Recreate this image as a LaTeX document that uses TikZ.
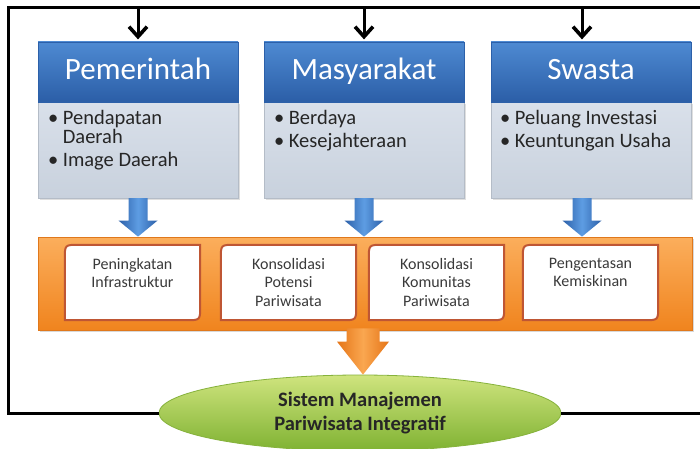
\documentclass[tikz,border=0pt]{standalone}
\usepackage{fontspec}
\setmainfont{Carlito}
\usetikzlibrary{calc,arrows.meta,shapes.geometric,shadows}
\definecolor{hdrtop}{HTML}{4E8AD2}
\definecolor{hdrbot}{HTML}{2B5EA7}
\definecolor{bodytop}{HTML}{D9E0EA}
\definecolor{bodybot}{HTML}{C8D1DD}
\definecolor{bandtop}{HTML}{FBAE5C}
\definecolor{bandbot}{HTML}{F0841E}
\definecolor{bandline}{HTML}{E0781C}
\definecolor{boxline}{HTML}{BF5634}
\definecolor{blueedge}{HTML}{2C60A9}
\definecolor{bluemid}{HTML}{5E9DE3}
\definecolor{orgedge}{HTML}{E57518}
\definecolor{orgmid}{HTML}{FAA750}
\definecolor{elltop}{HTML}{CFE47E}
\definecolor{ellbot}{HTML}{7FB232}
\definecolor{elldraw}{HTML}{86B23C}
\definecolor{txtdark}{HTML}{262626}
\definecolor{txtband}{HTML}{3A3A3A}
\begin{document}
\begin{tikzpicture}[x=1pt,y=1pt,
  hdr/.style={rectangle, minimum width=200pt, minimum height=60pt, inner sep=0pt,
    top color=hdrtop, bottom color=hdrbot, draw=blueedge, line width=.6pt,
    text=white, font=\fontsize{31}{31}\selectfont, text height=21pt, text depth=5pt},
  bodybox/.style={rectangle, minimum width=200pt, minimum height=96pt, inner sep=0pt,
    top color=bodytop, bottom color=bodybot, draw=bodybot!90!black, line width=.4pt,
    drop shadow={opacity=.25, shadow xshift=2pt, shadow yshift=-2pt}},
  bul/.style={anchor=north west, inner sep=0pt, align=left, text=txtdark,
    font=\fontsize{20.5}{19.5}\selectfont},
  band/.style={rectangle, minimum width=654pt, minimum height=93pt, inner sep=0pt,
    top color=bandtop, bottom color=bandbot, draw=bandline, line width=.8pt,
    drop shadow={opacity=.3, shadow xshift=2pt, shadow yshift=-2pt}},
  bandbox/.style={rectangle, minimum width=135pt, minimum height=75pt, inner sep=0pt},
  boxborder/.style={draw=boxline, line width=2pt, fill=white},
  bt/.style={anchor=north, inner sep=0pt, align=center, text=txtband,
    font=\fontsize{16}{18.5}\selectfont},
  ell/.style={ellipse, minimum width=402pt, minimum height=76pt, inner sep=0pt,
    top color=elltop, bottom color=ellbot, draw=elldraw, line width=.8pt,
    align=center, text=txtdark, font=\bfseries\fontsize{20.5}{23.5}\selectfont},
  frame/.style={line width=3pt, black},
  shaftline/.style={line width=3pt, black},
  barb/.style={line width=3.6pt, black, miter limit=10},
  bluearrow/.style={left color=blueedge, right color=blueedge, middle color=bluemid,
    to path={let \p1=(\tikztostart), \p2=(\tikztotarget) in
      (\x1-9.5pt,\y1) -- (\x1+9.5pt,\y1) -- (\x1+9.5pt,\y2+16pt) -- (\x1+19.5pt,\y2+16pt)
      -- (\x1,\y2) -- (\x1-19.5pt,\y2+16pt) -- (\x1-9.5pt,\y2+16pt) -- cycle}},
  orangearrow/.style={left color=orgedge, right color=orgedge, middle color=orgmid,
    to path={let \p1=(\tikztostart), \p2=(\tikztotarget) in
      (\x1-16.5pt,\y1) -- (\x1+16.5pt,\y1) -- (\x1+16.5pt,\y2+33pt) -- (\x1+26pt,\y2+33pt)
      -- (\x1,\y2) -- (\x1-26pt,\y2+33pt) -- (\x1-16.5pt,\y2+33pt) -- cycle}}
]
\useasboundingbox (0,0) rectangle (700,448);
\clip (0,0) rectangle (700,448);
\fill[white] (0,0) rectangle (700,448);

% frame corners
\coordinate (tl) at (8,440);
\coordinate (tr) at (712,440);
\coordinate (bl) at (8,35);
\coordinate (br) at (712,35);

% bodies and headers
\node[bodybox] (b1) at (138,298) {};
\node[bodybox] (b2) at (364,298) {};
\node[bodybox] (b3) at (591,298) {};
\node[hdr] (h1) at (138,376) {Pemerintah};
\node[hdr] (h2) at (364,376) {Masyarakat};
\node[hdr] (h3) at (591,376) {Swasta};

\node[bul] (t1) at ([xshift=10pt,yshift=-8pt]b1.north west)
  {\textbullet\ Pendapatan\\\hphantom{\textbullet\ }Daerah\\[3.5pt]\textbullet\ Image Daerah};
\node[bul] (t2) at ([xshift=10pt,yshift=-8pt]b2.north west)
  {\textbullet\ Berdaya\\[3.5pt]\textbullet\ Kesejahteraan};
\node[bul] (t3) at ([xshift=9pt,yshift=-8pt]b3.north west)
  {\textbullet\ Peluang Investasi\\[3.5pt]\textbullet\ Keuntungan Usaha};

% band
\node[band] (band) at (365,164.5) {};

% blue arrows
\coordinate (b3s) at ([xshift=-9pt]b3.south);
\path[bluearrow] (b1.south) to (b1.south |- band.north);
\path[bluearrow] (b2.south) to (b2.south |- band.north);
\path[bluearrow] (b3s) to (b3s |- band.north);

% boxes inside band
\node[bandbox] (bx1) at (132.5,165.5) {};
\node[bandbox] (bx2) at (288.5,165.5) {};
\node[bandbox] (bx3) at (436.5,165.5) {};
\node[bandbox] (bx4) at (590.5,165.5) {};
\foreach \b in {bx1,bx2,bx3,bx4}{
  \path[boxborder] ($(\b.north west)+(0,-14)$) .. controls (\b.north west) .. ($(\b.north west)+(14,0)$)
    -- (\b.north east) -- ($(\b.south east)+(0,14)$) .. controls (\b.south east) .. ($(\b.south east)+(-14,0)$)
    -- (\b.south west) -- cycle;
}
\node[bt] (l1) at ([yshift=-13pt]bx1.north) {Peningkatan\\Infrastruktur};
\node[bt] (l2) at ([yshift=-13pt]bx2.north) {Konsolidasi\\Potensi\\Pariwisata};
\node[bt] (l3) at ([yshift=-13pt]bx3.north) {Konsolidasi\\Komunitas\\Pariwisata};
\node[bt] (l4) at ([yshift=-13pt]bx4.north) {Pengentasan\\Kemiskinan};

% ellipse
\node[ell] (ell) at (360,35) {Sistem Manajemen\\Pariwisata Integratif};

% orange arrow
\coordinate (os) at ([xshift=-2pt,yshift=2pt]band.south);
\path[orangearrow] (os) to (os |- ell.north);

% frame and top arrows
\draw[frame] (ell.east) -- (br) -- (tr) -- (tl) -- (bl) -- (ell.west);
\coordinate (h3n) at ([xshift=-9pt]h3.north);
\foreach \n/\p in {a1/h1.north, a2/h2.north, a3/h3n}{
  \coordinate (\n) at ([yshift=5pt]\p);
  \draw[shaftline] (\p |- tl) -- ([yshift=3pt]\n);
  \draw[barb] ([xshift=-9pt,yshift=10pt]\n) -- (\n) -- ([xshift=9pt,yshift=10pt]\n);
}
\end{tikzpicture}
\end{document}
